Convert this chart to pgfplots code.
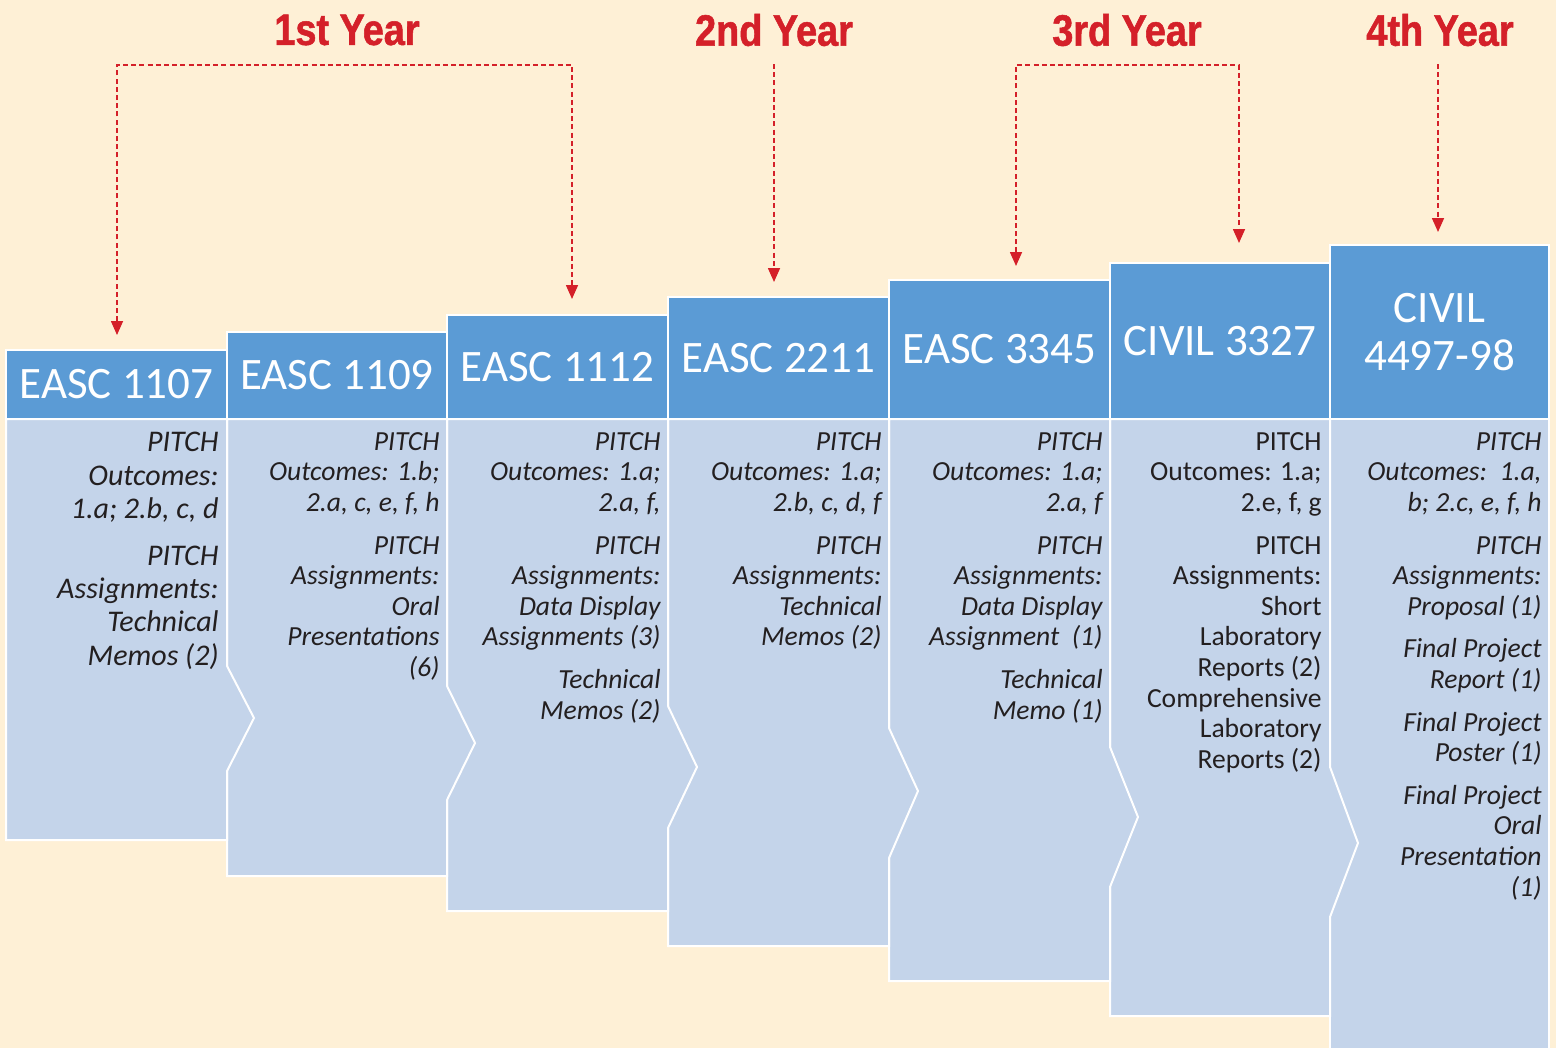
\documentclass[border=0pt]{standalone}
\usepackage{pgfplots}
\pgfplotsset{compat=1.18}
\usepackage{fontspec}
\setmainfont{Carlito}
\newfontfamily\yearfont[FakeStretch=0.86,FakeBold=1.2]{Liberation Sans}
\usetikzlibrary{arrows.meta}
\definecolor{bg}{HTML}{FEF0D6}
\definecolor{hdr}{HTML}{5B9BD5}
\definecolor{bdy}{HTML}{C4D4EA}
\definecolor{yr}{HTML}{D42029}
\definecolor{txt}{HTML}{231F20}
\newcommand{\bodyfont}{\fontsize{13.8bp}{15.3bp}\selectfont}
\newcommand{\bodyfontA}{\fontsize{15bp}{16.7bp}\selectfont}
\newcommand{\hdrfont}{\fontsize{22.5bp}{24bp}\selectfont}
\newcommand{\yrfont}{\yearfont\bfseries\fontsize{22bp}{24bp}\selectfont}
\begin{document}
\begin{tikzpicture}
\begin{axis}[scale only axis, width=778bp, height=524bp,
  xmin=0, xmax=1556, ymin=0, ymax=1048, y dir=reverse,
  hide axis, clip=false, no markers,
  every axis plot/.append style={line join=miter}]
% background
\addplot[fill=bg, draw=none] coordinates {(0,0) (1556,0) (1556,1048) (0,1048)} -- cycle;
% column 7
\addplot[fill=bdy, draw=none] coordinates {(1330,419) (1549,419) (1549,1048) (1330,1048)} -- cycle;
\addplot[draw=white, line width=1bp] coordinates {(1330,1048) (1330,419) (1549,419) (1549,1048)};
\addplot[fill=hdr, draw=white, line width=1bp] coordinates {(1330,245) (1549,245) (1549,419) (1330,419)} -- cycle;
% column 6
\addplot[fill=bdy, draw=white, line width=1bp] coordinates {(1110,419) (1330,419) (1330,767) (1358,843) (1330,917) (1330,1016) (1110,1016)} -- cycle;
\addplot[fill=hdr, draw=white, line width=1bp] coordinates {(1110,263) (1330,263) (1330,419) (1110,419)} -- cycle;
% column 5
\addplot[fill=bdy, draw=white, line width=1bp] coordinates {(889,419) (1110,419) (1110,747) (1138,817) (1110,887) (1110,981) (889,981)} -- cycle;
\addplot[fill=hdr, draw=white, line width=1bp] coordinates {(889,280) (1110,280) (1110,419) (889,419)} -- cycle;
% column 4
\addplot[fill=bdy, draw=white, line width=1bp] coordinates {(668,419) (889,419) (889,728) (918,791) (889,858) (889,946) (668,946)} -- cycle;
\addplot[fill=hdr, draw=white, line width=1bp] coordinates {(668,297) (889,297) (889,419) (668,419)} -- cycle;
% column 3
\addplot[fill=bdy, draw=white, line width=1bp] coordinates {(447,419) (668,419) (668,706) (697,767) (668,828) (668,911) (447,911)} -- cycle;
\addplot[fill=hdr, draw=white, line width=1bp] coordinates {(447,315) (668,315) (668,419) (447,419)} -- cycle;
% column 2
\addplot[fill=bdy, draw=white, line width=1bp] coordinates {(227,419) (447,419) (447,686) (475,743) (447,800) (447,876) (227,876)} -- cycle;
\addplot[fill=hdr, draw=white, line width=1bp] coordinates {(227,332) (447,332) (447,419) (227,419)} -- cycle;
% column 1
\addplot[fill=bdy, draw=white, line width=1bp] coordinates {(6,419) (227,419) (227,666) (254,718) (227,771) (227,840) (6,840)} -- cycle;
\addplot[fill=hdr, draw=white, line width=1bp] coordinates {(6,350) (227,350) (227,419) (6,419)} -- cycle;

% arrows
\addplot[yr, line width=0.8bp, dash pattern=on 2.5bp off 1.6bp, {Triangle[width=6bp,length=7bp]}-{Triangle[width=6bp,length=7bp]}] coordinates {(117,335) (117,65) (572,65) (572,299)};
\addplot[yr, line width=0.8bp, dash pattern=on 2.5bp off 1.6bp, -{Triangle[width=6bp,length=7bp]}] coordinates {(774,64) (774,282)};
\addplot[yr, line width=0.8bp, dash pattern=on 2.5bp off 1.6bp, {Triangle[width=6bp,length=7bp]}-{Triangle[width=6bp,length=7bp]}] coordinates {(1016,266) (1016,65) (1239,65) (1239,243)};
\addplot[yr, line width=0.8bp, dash pattern=on 2.5bp off 1.6bp, -{Triangle[width=6bp,length=7bp]}] coordinates {(1438,64) (1438,232)};

% year labels
\node[yr, inner sep=0, font=\yrfont] at (347,30) {1st Year};
\node[yr, inner sep=0, font=\yrfont] at (774,30) {2nd Year};
\node[yr, inner sep=0, font=\yrfont] at (1127,30) {3rd Year};
\node[yr, inner sep=0, font=\yrfont] at (1440,30) {4th Year};

% header labels
\node[white, inner sep=0, font=\hdrfont] at (116.5,384.5) {EASC 1107};
\node[white, inner sep=0, font=\hdrfont] at (337,375.5) {EASC 1109};
\node[white, inner sep=0, font=\hdrfont] at (557.5,367) {EASC 1112};
\node[white, inner sep=0, font=\hdrfont] at (778.5,358) {EASC 2211};
\node[white, inner sep=0, font=\hdrfont] at (999.5,349.5) {EASC 3345};
\node[white, inner sep=0, font=\hdrfont] at (1220,341) {CIVIL 3327};
\node[white, inner sep=0, align=center, font=\hdrfont] at (1439.5,332) {CIVIL\\4497-98};

% body text
\node[txt, inner sep=0, anchor=north east, align=right, font=\bodyfontA\itshape] at (219,432) {PITCH\\Outcomes:\\1.a; 2.b, c, d\\[6.5bp]PITCH\\Assignments:\\Technical\\Memos (2)};
\node[txt, inner sep=0, anchor=north east, align=right, font=\bodyfont\itshape] at (440,432) {PITCH\\Outcomes: 1.b;\\2.a, c, e, f, h\\[6bp]PITCH\\Assignments:\\Oral\\Presentations\\(6)};
\node[txt, inner sep=0, anchor=north east, align=right, font=\bodyfont\itshape] at (661,432) {PITCH\\Outcomes: 1.a;\\2.a, f,\\[6bp]PITCH\\Assignments:\\Data Display\\Assignments (3)\\[6bp]Technical\\Memos (2)};
\node[txt, inner sep=0, anchor=north east, align=right, font=\bodyfont\itshape] at (882,432) {PITCH\\Outcomes: 1.a;\\2.b, c, d, f\\[6bp]PITCH\\Assignments:\\Technical\\Memos (2)};
\node[txt, inner sep=0, anchor=north east, align=right, font=\bodyfont\itshape] at (1103,432) {PITCH\\Outcomes: 1.a;\\2.a, f\\[6bp]PITCH\\Assignments:\\Data Display\\Assignment\ \ (1)\\[6bp]Technical\\Memo (1)};
\node[txt, inner sep=0, anchor=north east, align=right, font=\bodyfont] at (1322,432) {PITCH\\Outcomes: 1.a;\\2.e, f, g\\[6bp]PITCH\\Assignments:\\Short\\Laboratory\\Reports (2)\\Comprehensive\\Laboratory\\Reports (2)};
\node[txt, inner sep=0, anchor=north east, align=right, font=\bodyfont\itshape] at (1542,432) {PITCH\\Outcomes:\ \ 1.a,\\b; 2.c, e, f, h\\[6bp]PITCH\\Assignments:\\Proposal (1)\\[6bp]Final Project\\Report (1)\\[6bp]Final Project\\Poster (1)\\[6bp]Final Project\\Oral\\Presentation\\(1)};
\end{axis}
\end{tikzpicture}
\end{document}
